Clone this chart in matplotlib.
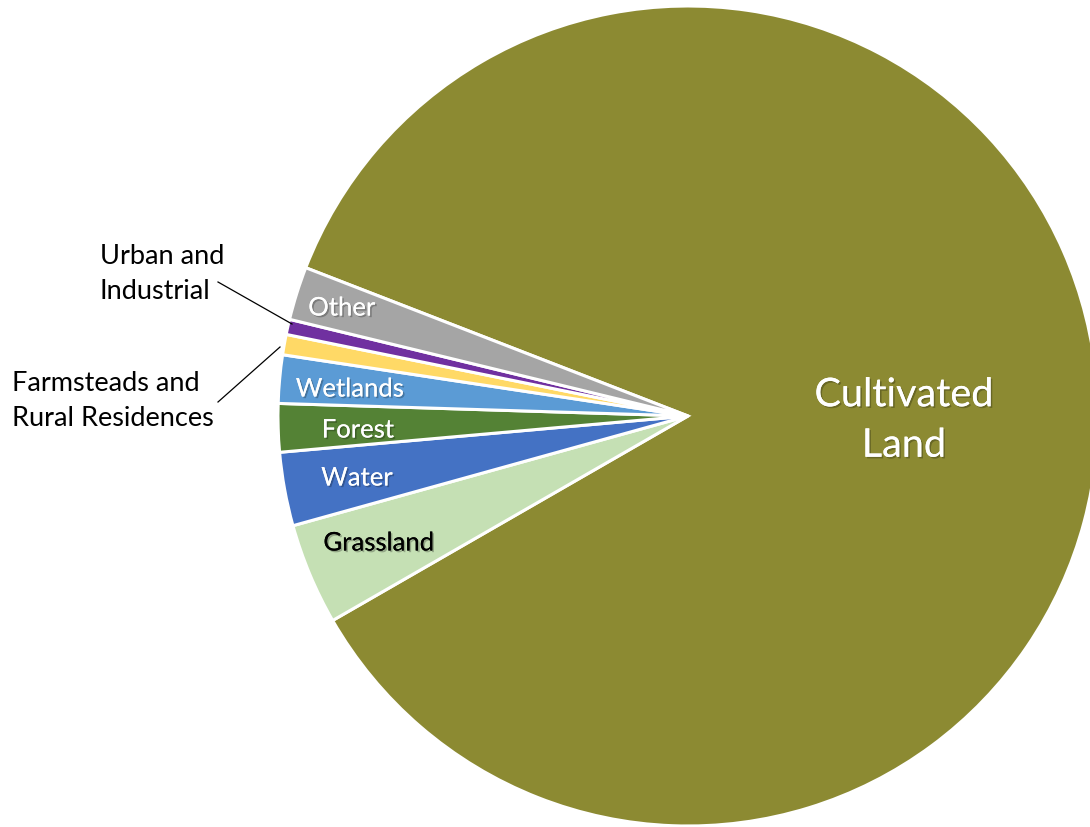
import matplotlib
matplotlib.use("Agg")
import matplotlib.pyplot as plt
import matplotlib.patheffects as pe

# Land use shares (percent), in clockwise order starting from the large slice
categories = ["Cultivated Land", "Grassland", "Water", "Forest", "Wetlands",
              "Farmsteads and Rural Residences", "Urban and Industrial", "Other"]
shares = [85.8, 4.0, 2.9, 1.9, 1.9, 0.8, 0.6, 2.1]
colors = ["#8C8A32", "#C5E0B4", "#4472C4", "#548235", "#5B9BD5",
          "#FFD966", "#7030A0", "#A5A5A5"]

plt.rcParams["font.family"] = ["Lato", "DejaVu Sans"]

W, H = 1090, 827
fig = plt.figure(figsize=(W / 100, H / 100), dpi=100)
ax = fig.add_axes([0, 0, 1, 1])

cx, cy, R = 688, 411, 410
ax.pie(shares, colors=colors, startangle=158.8, counterclock=False,
       center=(cx, cy), radius=R, frame=True,
       wedgeprops=dict(edgecolor="white", linewidth=2.2))
ax.set_xlim(0, W)
ax.set_ylim(0, H)
ax.set_aspect("equal")
ax.axis("off")

shadow = [pe.withSimplePatchShadow(offset=(1.2, -1.2), shadow_rgbFace="black", alpha=0.25),
          pe.Normal()]

inner = [
    ("Other", 342, 519, "white"),
    ("Wetlands", 350, 438, "white"),
    ("Forest", 358, 397, "white"),
    ("Water", 357, 349, "white"),
    ("Grassland", 379, 284, "black"),
]
for txt, x, y, c in inner:
    ax.text(x, y, txt, color=c, fontsize=18.5, ha="center", va="center",
            path_effects=shadow)

ax.text(904, 407, "Cultivated\nLand", color="white", fontsize=28.5,
        ha="center", va="center", linespacing=1.45, path_effects=shadow)

ax.text(100, 553, "Urban and\nIndustrial", color="black", fontsize=19.5,
        ha="left", va="center", linespacing=1.5)
ax.text(12, 426, "Farmsteads and\nRural Residences", color="black", fontsize=19.5,
        ha="left", va="center", linespacing=1.5)

ax.plot([218, 292], [545, 503], color="black", lw=0.9)
ax.plot([218, 280], [425, 480], color="black", lw=0.9)

fig.savefig("out.png", dpi=100, facecolor="white")
